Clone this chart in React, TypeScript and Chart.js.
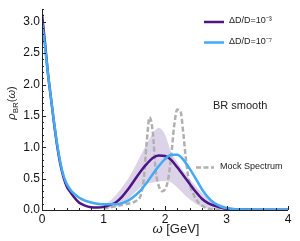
import React, { useEffect, useRef } from "react";
import { Chart, registerables } from "chart.js";

Chart.register(...registerables);

// ω grid for the two BR reconstructions
const omega = [0, 0.05, 0.1, 0.15, 0.2, 0.25, 0.3, 0.35, 0.4, 0.45, 0.5, 0.6, 0.7, 0.8, 0.9, 1.0, 1.1, 1.2, 1.3, 1.4, 1.5, 1.6, 1.7, 1.8, 1.9, 2.0, 2.1, 2.2, 2.3, 2.4, 2.5, 2.6, 2.7, 2.8, 2.9, 3.0, 3.2, 3.5, 4.0];
const rhoD3 = [3.12, 2.65, 2.15, 1.75, 1.35, 1.0, 0.72, 0.52, 0.38, 0.3, 0.23, 0.12, 0.07, 0.045, 0.04, 0.05, 0.08, 0.12, 0.21, 0.33, 0.47, 0.61, 0.73, 0.83, 0.87, 0.86, 0.8, 0.68, 0.55, 0.42, 0.29, 0.18, 0.11, 0.07, 0.04, 0.02, 0.01, 0.005, 0.003];
const rhoD7 = [3.0, 2.6, 2.15, 1.75, 1.37, 1.03, 0.75, 0.55, 0.42, 0.34, 0.28, 0.2, 0.15, 0.12, 0.1, 0.09, 0.09, 0.09, 0.11, 0.15, 0.22, 0.31, 0.43, 0.57, 0.7, 0.81, 0.88, 0.88, 0.8, 0.66, 0.5, 0.33, 0.2, 0.11, 0.06, 0.03, 0.01, 0.005, 0.003];

// error band of the ΔD/D=10^-3 reconstruction
const bandOmega = [0.9, 1.0, 1.1, 1.2, 1.3, 1.4, 1.5, 1.6, 1.7, 1.8, 1.9, 2.0, 2.1, 2.2, 2.3, 2.4, 2.5, 2.6, 2.7, 2.8, 2.9, 3.0, 3.1, 3.2];
const bandUpper = [0.05, 0.08, 0.14, 0.24, 0.36, 0.5, 0.67, 0.86, 1.05, 1.22, 1.31, 1.2, 0.92, 0.76, 0.62, 0.5, 0.38, 0.27, 0.19, 0.13, 0.09, 0.06, 0.03, 0.01];
const bandLower = [0.02, 0.02, 0.03, 0.05, 0.1, 0.17, 0.27, 0.36, 0.42, 0.44, 0.46, 0.46, 0.44, 0.36, 0.26, 0.17, 0.1, 0.05, 0.02, 0.01, 0.005, 0.0, 0.0, 0.0];

// mock spectrum
const mockOmega = [1.0, 1.05, 1.1, 1.15, 1.2, 1.25, 1.3, 1.35, 1.4, 1.45, 1.5, 1.55, 1.6, 1.65, 1.7, 1.75, 1.8, 1.85, 1.9, 1.95, 2.0, 2.05, 2.1, 2.15, 2.2, 2.25, 2.3, 2.35, 2.4, 2.45, 2.5, 2.55, 2.6, 2.65, 2.7, 2.8, 3.0];
const mockRho = [0.02, 0.03, 0.04, 0.05, 0.06, 0.07, 0.08, 0.09, 0.1, 0.11, 0.13, 0.16, 0.22, 0.45, 1.05, 1.48, 1.25, 0.62, 0.38, 0.3, 0.33, 0.48, 0.85, 1.35, 1.6, 1.58, 1.2, 0.72, 0.42, 0.28, 0.18, 0.11, 0.07, 0.04, 0.02, 0.01, 0.0];

const xTicks = [0, 1, 2, 3, 4];
const yTicks = [0, 0.5, 1.0, 1.5, 2.0, 2.5, 3.0];

const PURPLE = "#4b1487";
const BLUE = "#41abf5";
const GRAY = "#b0b0b0";
const FONT = "'Liberation Sans', Arial, sans-serif";

const pts = (xs: number[], ys: number[]) => xs.map((x, i) => ({ x, y: ys[i] }));

const decorPlugin = {
  id: "decor",
  afterDraw(chart: any) {
    const { ctx, chartArea: a, scales } = chart;
    const x = scales.x;
    const y = scales.y;
    ctx.save();
    // axes
    ctx.strokeStyle = "#222";
    ctx.lineWidth = 1;
    ctx.beginPath();
    ctx.moveTo(a.left + 0.5, a.top);
    ctx.lineTo(a.left + 0.5, a.bottom + 0.5);
    ctx.lineTo(a.right, a.bottom + 0.5);
    ctx.stroke();
    // inward ticks
    ctx.beginPath();
    for (let i = 0; i <= 20; i++) {
      const v = i * 0.2;
      const px = Math.round(x.getPixelForValue(v)) + 0.5;
      const len = i % 5 === 0 ? 4 : 2;
      ctx.moveTo(px, a.bottom);
      ctx.lineTo(px, a.bottom - len);
    }
    for (let i = 0; i <= 32; i++) {
      const v = i * 0.1;
      const py = Math.round(y.getPixelForValue(v)) + 0.5;
      const len = i % 5 === 0 ? 4 : 2;
      ctx.moveTo(a.left, py);
      ctx.lineTo(a.left + len, py);
    }
    ctx.stroke();

    // legend
    ctx.textBaseline = "middle";
    ctx.textAlign = "left";
    ctx.lineCap = "butt";
    const legendLine = (y0: number, color: string, label: string) => {
      ctx.strokeStyle = color;
      ctx.lineWidth = 2.5;
      ctx.beginPath();
      ctx.moveTo(204, y0);
      ctx.lineTo(224, y0);
      ctx.stroke();
      ctx.fillStyle = "#222";
      ctx.font = `9px ${FONT}`;
      ctx.fillText(label, 229, y0 - 1);
    };
    legendLine(22, PURPLE, "ΔD/D=10⁻³");
    legendLine(42.5, BLUE, "ΔD/D=10⁻⁷");

    ctx.fillStyle = "#222";
    ctx.font = `11px ${FONT}`;
    ctx.fillText("BR smooth", 213, 106);

    ctx.strokeStyle = GRAY;
    ctx.lineWidth = 2.5;
    ctx.setLineDash([5, 2.5]);
    ctx.beginPath();
    ctx.moveTo(196, 167.5);
    ctx.lineTo(214, 167.5);
    ctx.stroke();
    ctx.setLineDash([]);
    ctx.fillStyle = "#222";
    ctx.font = `9px ${FONT}`;
    ctx.fillText("Mock Spectrum", 220, 167);

    // x title: ω [GeV]
    ctx.textBaseline = "alphabetic";
    ctx.font = `italic 13px ${FONT}`;
    const w1 = ctx.measureText("ω").width;
    ctx.font = `13px ${FONT}`;
    const w2 = ctx.measureText(" [GeV]").width;
    const sx = 176 - (w1 + w2) / 2;
    ctx.font = `italic 13px ${FONT}`;
    ctx.fillText("ω", sx, 233);
    ctx.font = `13px ${FONT}`;
    ctx.fillText(" [GeV]", sx + w1, 233);

    // y title: ρ_BR(ω), rotated
    ctx.translate(11, 103);
    ctx.rotate(-Math.PI / 2);
    const parts = [
      { t: "ρ", f: `italic 11px ${FONT}`, dy: 0 },
      { t: "BR", f: `8px ${FONT}`, dy: 3 },
      { t: "(", f: `11px ${FONT}`, dy: 0 },
      { t: "ω", f: `italic 11px ${FONT}`, dy: 0 },
      { t: ")", f: `11px ${FONT}`, dy: 0 },
    ];
    let total = 0;
    for (const p of parts) {
      ctx.font = p.f;
      total += ctx.measureText(p.t).width;
    }
    let cx = -total / 2;
    for (const p of parts) {
      ctx.font = p.f;
      ctx.fillText(p.t, cx, 4 + p.dy);
      cx += ctx.measureText(p.t).width;
    }
    ctx.restore();
  },
};

export default function App() {
  const ref = useRef<HTMLCanvasElement | null>(null);
  useEffect(() => {
    if (!ref.current) return;
    const chart = new Chart(ref.current, {
      type: "line",
      data: {
        datasets: [
          {
            label: "band upper",
            data: pts(bandOmega, bandUpper),
            borderWidth: 0,
            borderColor: "rgba(0,0,0,0)",
            backgroundColor: "rgba(110,70,160,0.24)",
            pointRadius: 0,
            fill: "+1",
            cubicInterpolationMode: "monotone",
            order: 5,
          },
          {
            label: "band lower",
            data: pts(bandOmega, bandLower),
            borderWidth: 0,
            borderColor: "rgba(0,0,0,0)",
            pointRadius: 0,
            fill: false,
            cubicInterpolationMode: "monotone",
            order: 4,
          },
          {
            label: "Mock Spectrum",
            data: pts(mockOmega, mockRho),
            borderColor: GRAY,
            borderWidth: 2.5,
            borderDash: [5, 2.5],
            pointRadius: 0,
            fill: false,
            cubicInterpolationMode: "monotone",
            order: 3,
          },
          {
            label: "ΔD/D=10⁻³",
            data: pts(omega, rhoD3),
            borderColor: PURPLE,
            borderWidth: 2.5,
            pointRadius: 0,
            fill: false,
            cubicInterpolationMode: "monotone",
            order: 2,
          },
          {
            label: "ΔD/D=10⁻⁷",
            data: pts(omega, rhoD7),
            borderColor: BLUE,
            borderWidth: 2.5,
            pointRadius: 0,
            fill: false,
            cubicInterpolationMode: "monotone",
            order: 1,
          },
        ],
      },
      options: {
        animation: false,
        responsive: false,
        maintainAspectRatio: false,
        layout: { padding: { left: 0, right: 12, top: 1, bottom: 0 } },
        plugins: { legend: { display: false }, tooltip: { enabled: false } },
        scales: {
          x: {
            type: "linear",
            min: 0,
            max: 4,
            grid: { display: false, drawTicks: false, tickLength: 0 },
            border: { display: false },
            afterFit: (s: any) => {
              s.height = 31;
            },
            afterBuildTicks: (s: any) => {
              s.ticks = xTicks.map((v) => ({ value: v }));
            },
            ticks: {
              padding: 2,
              color: "#111",
              font: { family: FONT, size: 12 },
              callback: (v: any) => String(v),
              maxRotation: 0,
            },
          },
          y: {
            type: "linear",
            min: 0,
            max: 3.2,
            grid: { display: false, drawTicks: false, tickLength: 0 },
            border: { display: false },
            afterFit: (s: any) => {
              s.width = 42;
            },
            afterBuildTicks: (s: any) => {
              s.ticks = yTicks.map((v) => ({ value: v }));
            },
            ticks: {
              padding: 2,
              color: "#111",
              font: { family: FONT, size: 12 },
              callback: (v: any) => Number(v).toFixed(1),
            },
          },
        },
      },
      plugins: [decorPlugin],
    } as any);
    return () => chart.destroy();
  }, []);
  return (
    <div style={{ position: "fixed", left: 0, top: 0, width: 300, height: 241, background: "#fff" }}>
      <canvas ref={ref} width={300} height={241} style={{ width: 300, height: 241, display: "block" }} />
    </div>
  );
}
